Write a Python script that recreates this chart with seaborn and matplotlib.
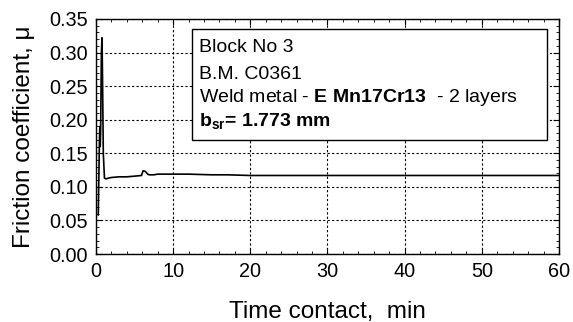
import matplotlib
matplotlib.use("Agg")
import matplotlib.pyplot as plt
import seaborn as sns
import pandas as pd
from matplotlib.patches import Rectangle
from matplotlib.ticker import MultipleLocator

time_min = [0.3, 0.35, 0.45, 0.5, 0.55, 0.6, 0.7, 0.78, 0.85, 0.95, 1.1, 1.3, 1.6, 2, 3, 4, 5, 5.9,
            6.1, 6.4, 6.7, 6.9, 7.5, 8, 10, 12, 15, 17, 20, 25, 30, 35, 40, 45, 50, 55, 60]
friction = [0.058, 0.10, 0.17, 0.19, 0.16, 0.18, 0.30, 0.322, 0.26, 0.15, 0.113, 0.112, 0.113, 0.114,
            0.115, 0.115, 0.116, 0.117, 0.124, 0.123, 0.119, 0.118, 0.118, 0.119, 0.119, 0.119,
            0.118, 0.118, 0.117, 0.117, 0.117, 0.117, 0.117, 0.117, 0.117, 0.117, 0.117]

box_lines = ["Block No 3", "B.M. C0361"]

sns.set_theme(style="ticks")
plt.rcParams['font.family'] = ['Liberation Sans', 'DejaVu Sans']
plt.rcParams['mathtext.fontset'] = 'custom'
plt.rcParams['mathtext.rm'] = 'Liberation Sans'
plt.rcParams['mathtext.bf'] = 'Liberation Sans:bold'
plt.rcParams['mathtext.it'] = 'Liberation Sans:italic'
plt.rcParams['text.color'] = 'black'
plt.rcParams['axes.labelcolor'] = 'black'
plt.rcParams['xtick.color'] = 'black'
plt.rcParams['ytick.color'] = 'black'
plt.rcParams['axes.edgecolor'] = 'black'

df = pd.DataFrame({"t": time_min, "mu": friction})

fig = plt.figure(figsize=(5.73, 3.22), dpi=100)
ax = fig.add_axes([0.1675, 0.211, 0.808, 0.730])
sns.lineplot(data=df, x="t", y="mu", ax=ax, color="black", linewidth=1.2, sort=False, estimator=None)

ax.set_xlim(0, 60)
ax.set_ylim(0, 0.35)
ax.xaxis.set_major_locator(MultipleLocator(10))
ax.xaxis.set_minor_locator(MultipleLocator(2))
ax.yaxis.set_major_locator(MultipleLocator(0.05))
ax.yaxis.set_minor_locator(MultipleLocator(0.01))
ax.yaxis.set_major_formatter(matplotlib.ticker.FormatStrFormatter('%.2f'))
ax.tick_params(which='both', direction='in', top=True, right=True, colors='black')
ax.tick_params(which='major', length=4, width=0.8, labelsize=14.3)
ax.tick_params(axis='y', which='major', pad=6)
ax.tick_params(axis='x', which='major', pad=6)
ax.tick_params(which='minor', length=2, width=0.6)
ax.grid(True, which='major', color='black', linestyle=(0, (2, 2)), linewidth=0.8)
for s in ax.spines.values():
    s.set_color('black')
    s.set_linewidth(1.0)

ax.set_xlabel("Time contact,  min", fontsize=17.5, labelpad=14, color='black')
ax.set_ylabel("Friction coefficient, \u03bc", fontsize=17.5, labelpad=10, color='black')

rect = Rectangle((0.207, 0.485), 0.767, 0.472, transform=ax.transAxes,
                 facecolor='white', edgecolor='black', linewidth=1.0, zorder=5)
ax.add_patch(rect)
tx = 0.222
ax.text(tx, 0.877, box_lines[0], transform=ax.transAxes, fontsize=14, va='center', zorder=6, color='black')
ax.text(tx, 0.762, box_lines[1], transform=ax.transAxes, fontsize=14, va='center', zorder=6, color='black')
ax.text(tx, 0.664, r"Weld metal - $\mathbf{E\ Mn17Cr13}$  - 2 layers", transform=ax.transAxes,
        fontsize=14, va='center', zorder=6, color='black')
ax.text(tx, 0.565, r"$\mathbf{b}_{\mathbf{sr}}$= 1.773 mm", transform=ax.transAxes, fontsize=14,
        fontweight='bold', va='center', zorder=6, color='black')

fig.savefig("out.png", dpi=100)
